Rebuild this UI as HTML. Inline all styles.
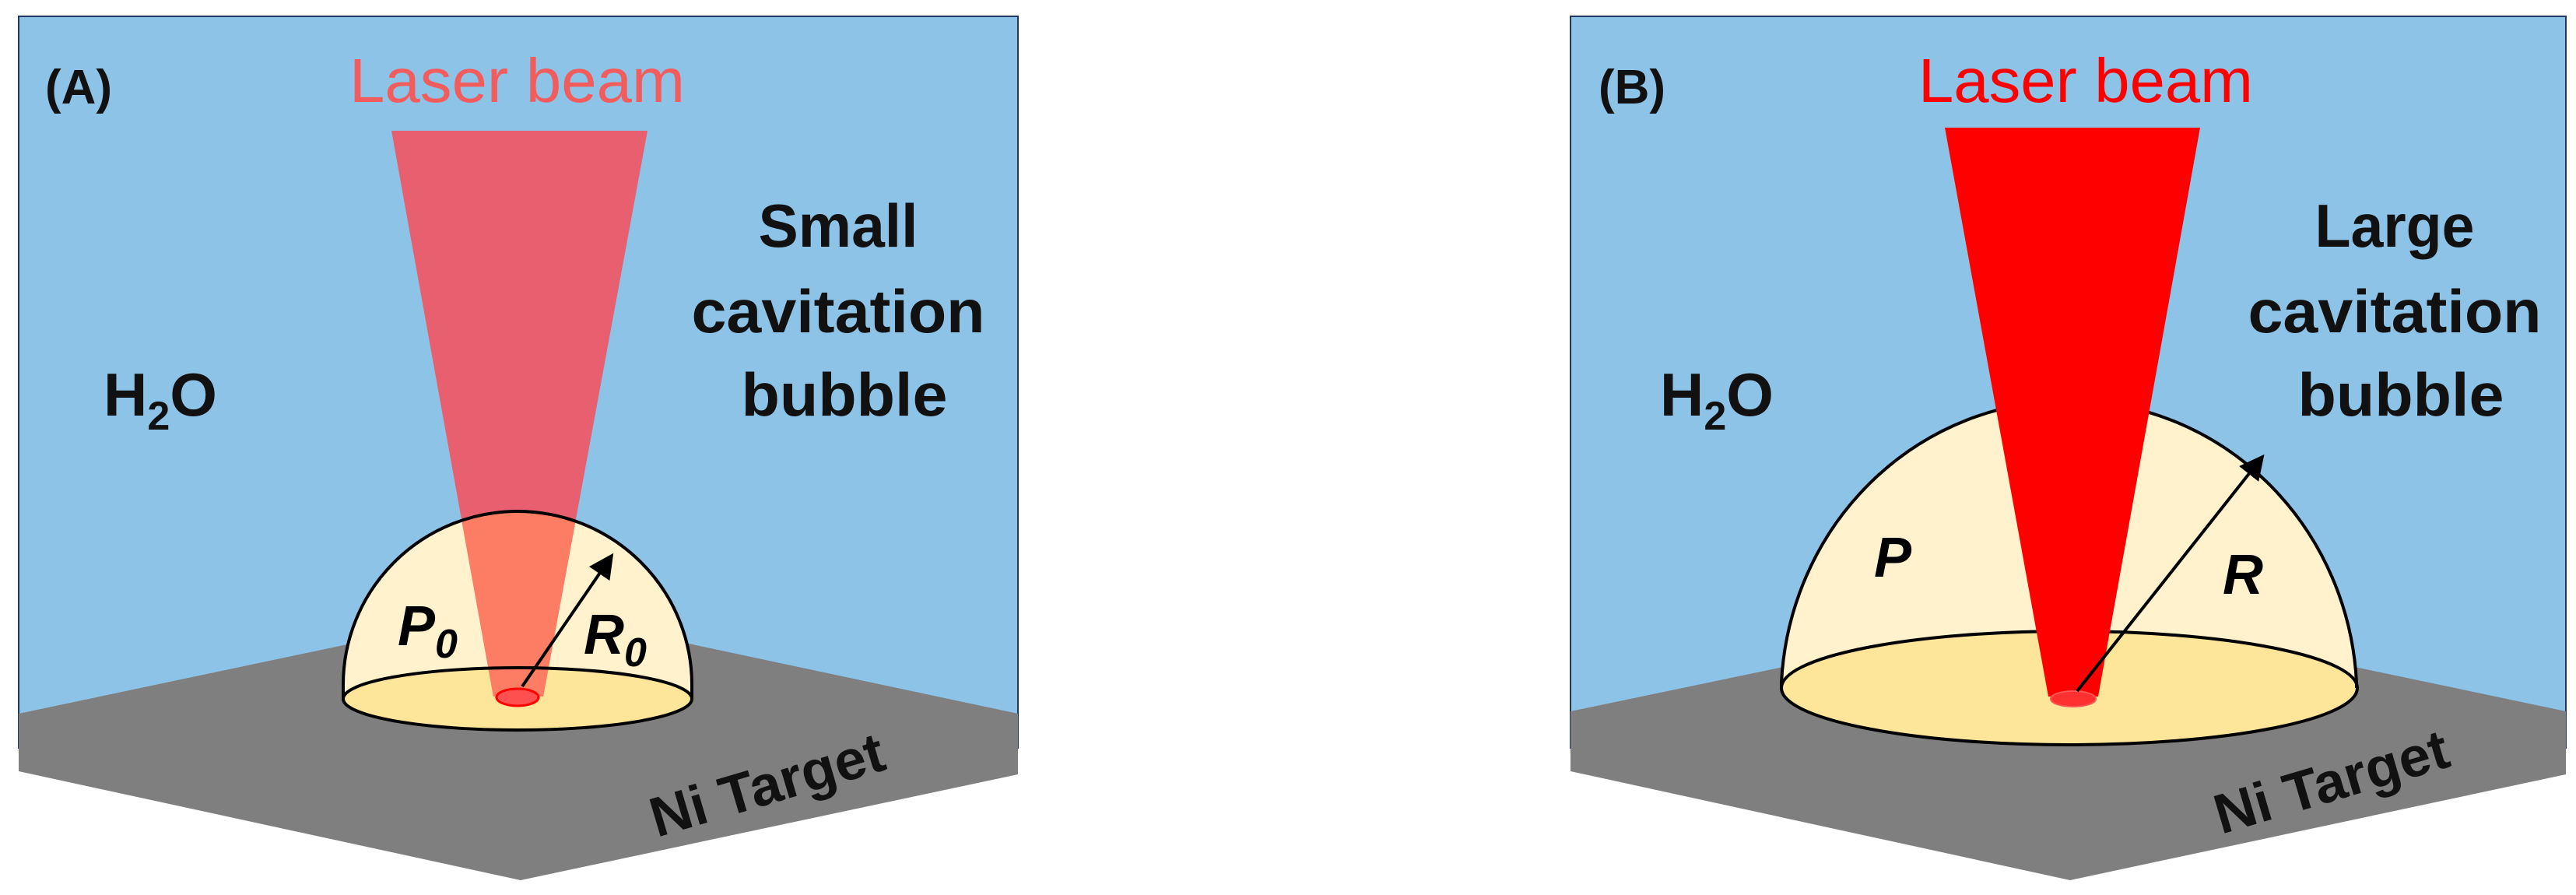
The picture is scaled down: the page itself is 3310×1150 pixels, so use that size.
<!DOCTYPE html>
<html><head><meta charset="utf-8"><style>html,body{margin:0;padding:0;background:#fff}svg{display:block}</style></head>
<body>
<svg width="3310" height="1150" viewBox="0 0 3310 1150" xmlns="http://www.w3.org/2000/svg">
<defs>
<clipPath id="domeA"><path d="M441,897 L441,880 A224,223 0 0 1 889,880 L889,897 A224,40 0 0 1 441,897 Z"/></clipPath>
<marker id="ah" markerWidth="8" markerHeight="8" refX="7" refY="4" orient="auto" markerUnits="strokeWidth"><path d="M0,0 L8,4 L0,8 Z" fill="#000"/></marker>
</defs>
<style>
.lbl{font-family:"Liberation Sans",sans-serif;font-weight:bold;fill:#111}
.it{font-family:"Liberation Sans",sans-serif;font-weight:bold;font-style:italic;fill:#000}
.lb{font-family:"Liberation Sans",sans-serif}
</style>
<!-- Panel A -->
<rect x="24" y="21" width="1284" height="940" fill="#8dc3e6" stroke="#1f3864" stroke-width="2"/>
<polygon points="24,917 669,781 1308,917 1308,995 669,1131 24,991" fill="#7f7f7f"/>
<path d="M441,897 L441,880 A224,223 0 0 1 889,880 L889,897 A224,40 0 0 1 441,897 Z" fill="#fff2cc"/>
<ellipse cx="665" cy="898" rx="224" ry="40" fill="#fde59a"/>
<polygon points="503,168 832,168 698,895 634,895" fill="#e8606f"/>
<polygon points="503,168 832,168 698,895 634,895" fill="#fd7c64" clip-path="url(#domeA)"/>
<path d="M441,897 L441,880 A224,223 0 0 1 889,880 L889,897" fill="none" stroke="#000" stroke-width="4"/>
<ellipse cx="665" cy="898" rx="224" ry="40" fill="none" stroke="#000" stroke-width="4"/>
<ellipse cx="665" cy="896" rx="27" ry="11" fill="#ff5050" stroke="#f00" stroke-width="3"/>
<line x1="671" y1="882" x2="786" y2="714" stroke="#000" stroke-width="4" marker-end="url(#ah)"/>
<text x="58" y="133" class="lbl" font-size="62">(A)</text>
<text x="449" y="131" class="lb" font-size="80" fill="#f35c5c" textLength="431" lengthAdjust="spacingAndGlyphs">Laser beam</text>
<text x="1077" y="317" class="lbl" font-size="78" text-anchor="middle" textLength="205" lengthAdjust="spacingAndGlyphs">Small</text>
<text x="1077" y="427" class="lbl" font-size="78" text-anchor="middle" textLength="377" lengthAdjust="spacingAndGlyphs">cavitation</text>
<text x="1085" y="534" class="lbl" font-size="78" text-anchor="middle" textLength="265" lengthAdjust="spacingAndGlyphs">bubble</text>
<text x="133" y="534" class="lbl" font-size="78">H<tspan font-size="52" dy="18">2</tspan><tspan dy="-18">O</tspan></text>
<text x="511" y="829" class="it" font-size="72">P<tspan font-size="52" dy="16">0</tspan></text>
<text x="750" y="840" class="it" font-size="72">R<tspan font-size="52" dy="16">0</tspan></text>
<text transform="translate(844,1076) rotate(-16.5)" class="lbl" font-size="72" textLength="310" lengthAdjust="spacingAndGlyphs">Ni Target</text>

<!-- Panel B -->
<rect x="2018" y="21" width="1279" height="940" fill="#8dc3e6" stroke="#1f3864" stroke-width="2"/>
<polygon points="2018,914 2660,780 3297,914 3297,995 2660,1131 2018,991" fill="#7f7f7f"/>
<path d="M2289,884 L2289,877 A370,382 0 0 1 3028,877 L3028,884 A370,73 0 0 1 2289,884 Z" fill="#fff2cc"/>
<ellipse cx="2659" cy="884" rx="370" ry="73" fill="#fde59a"/>
<path d="M2289,884 L2289,877 A370,382 0 0 1 3028,877 L3028,884" fill="none" stroke="#000" stroke-width="4"/>
<ellipse cx="2659" cy="884" rx="370" ry="73" fill="none" stroke="#000" stroke-width="4"/>
<polygon points="2499,164 2827,164 2696,895 2632,895" fill="#ff0000"/>
<ellipse cx="2664" cy="898" rx="29" ry="10" fill="#ff3030" stroke="#f55" stroke-width="2"/>
<line x1="2669" y1="888" x2="2907" y2="587" stroke="#000" stroke-width="4" marker-end="url(#ah)"/>
<text x="2054" y="133" class="lbl" font-size="62">(B)</text>
<text x="2465" y="131" class="lb" font-size="80" fill="#ff0000" textLength="430" lengthAdjust="spacingAndGlyphs">Laser beam</text>
<text x="3077" y="317" class="lbl" font-size="78" text-anchor="middle" textLength="205" lengthAdjust="spacingAndGlyphs">Large</text>
<text x="3077" y="427" class="lbl" font-size="78" text-anchor="middle" textLength="377" lengthAdjust="spacingAndGlyphs">cavitation</text>
<text x="3085" y="534" class="lbl" font-size="78" text-anchor="middle" textLength="265" lengthAdjust="spacingAndGlyphs">bubble</text>
<text x="2133" y="534" class="lbl" font-size="78">H<tspan font-size="52" dy="18">2</tspan><tspan dy="-18">O</tspan></text>
<text x="2408" y="741" class="it" font-size="72">P</text>
<text x="2856" y="763" class="it" font-size="72">R</text>
<text transform="translate(2854,1072) rotate(-16.5)" class="lbl" font-size="72" textLength="310" lengthAdjust="spacingAndGlyphs">Ni Target</text>
</svg>
</body></html>
